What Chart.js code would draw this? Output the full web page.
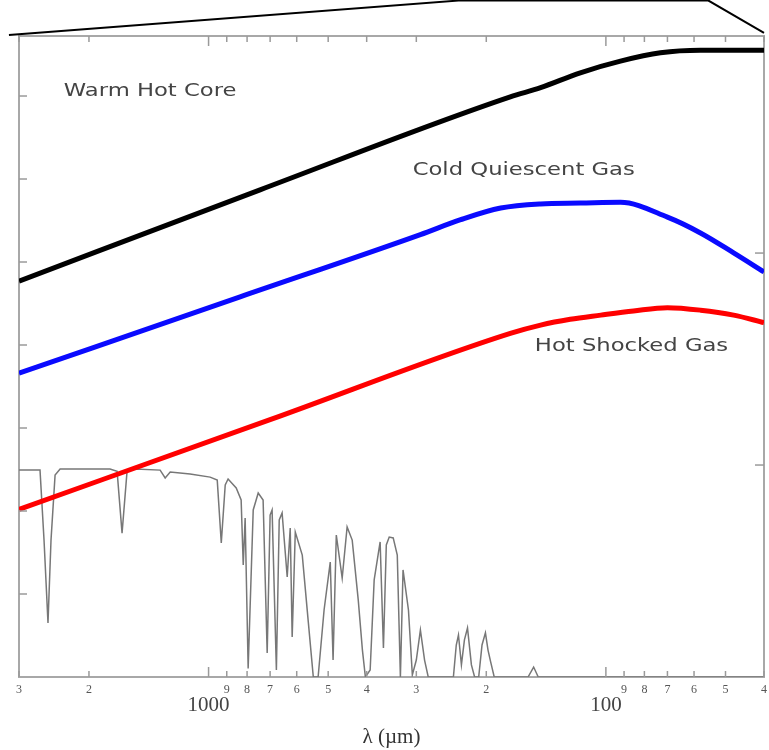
<!DOCTYPE html>
<html>
<head>
<meta charset="utf-8">
<script src="https://cdn.jsdelivr.net/npm/chart.js@4.4.1/dist/chart.umd.min.js"></script>
<style>
  html, body { margin: 0; padding: 0; background: #fff; }
  #wrap { width: 769px; height: 750px; }
</style>
</head>
<body>
<div id="wrap"><canvas id="chart" width="769" height="750"></canvas></div>
<script>
// wavelength ticks in µm, shared by the top and bottom axes
const tickValues = [3000, 2000, 1000, 900, 800, 700, 600, 500, 400, 300, 200, 100, 90, 80, 70, 60, 50, 40];
const tickLabels = ["3", "2", "1000", "9", "8", "7", "6", "5", "4", "3", "2", "100", "9", "8", "7", "6", "5", "4"];
const decadeValues = [1000, 100];
const leftTicks = [1, 2, 3, 4, 5, 6, 7];
const rightTicks = [1, 2];

// model spectra (arbitrary units, left axis)
const warmWl = [3000, 742, 174, 146, 116, 91.9, 72.9, 57.8, 40];
const warmVal = [4.77, 5.87, 6.99, 7.1, 7.28, 7.42, 7.52, 7.55, 7.55];
const coldWl = [3000, 833, 293, 232, 184, 146, 116, 91.9, 70.0, 57.8, 47.7, 40];
const coldVal = [3.66, 4.58, 5.33, 5.51, 5.65, 5.7, 5.71, 5.72, 5.54, 5.35, 5.11, 4.88];
const shockWl = [3000, 700, 174, 146, 123, 103, 85.2, 70.0, 57.8, 47.7, 40];
const shockVal = [2.02, 3.1, 4.14, 4.24, 4.31, 4.36, 4.41, 4.45, 4.42, 4.36, 4.27];

// atmospheric transmission (right axis)
const atmWl = [3000, 2703, 2656, 2595, 2536, 2492, 2434, 2364, 1770, 1699, 1651, 1604, 1531, 1324, 1286, 1249,
  1113, 991, 951, 929, 908, 893, 852, 828, 818, 809, 795, 772, 750, 729, 712, 700, 692, 675, 664, 653, 634, 623,
  616, 605, 581, 561, 545, 530, 512, 494, 486, 477, 461, 448, 435, 420, 410, 403, 392, 383, 370, 363, 357, 351,
  343, 335, 329, 324, 314, 307, 300, 293, 286, 280, 242, 238, 235, 231, 227, 223, 218, 214, 209, 205, 201, 198,
  195, 191, 157, 152, 148, 40];
const atmTrans = [0.976, 0.976, 0.976, 0.646, 0.255, 0.646, 0.953, 0.981, 0.981, 0.97, 0.679, 0.97, 0.981, 0.976,
  0.939, 0.967, 0.958, 0.943, 0.929, 0.632, 0.906, 0.934, 0.892, 0.835, 0.528, 0.75, 0.04, 0.788, 0.868, 0.835,
  0.113, 0.764, 0.788, 0.033, 0.741, 0.774, 0.472, 0.703, 0.189, 0.684, 0.575, 0.259, 0, 0, 0.316, 0.542, 0.08,
  0.67, 0.467, 0.708, 0.646, 0.363, 0.127, 0, 0.033, 0.458, 0.637, 0.137, 0.623, 0.66, 0.656, 0.575, 0, 0.505,
  0.316, 0.01, 0.08, 0.222, 0.08, 0, 0, 0.151, 0.198, 0.057, 0.175, 0.231, 0.057, 0, 0, 0.151, 0.208, 0.127,
  0.071, 0, 0, 0.047, 0, 0];

// outline above the frame
const outlineWl = [3180, 235, 55.2, 40];
const outlineVal = [7.735, 8.15, 8.15, 7.76];

const labelText = ["Warm Hot Core", "Cold Quiescent Gas", "Hot Shocked Gas"];
const labelWl = [1403, 161, 86.2];
const labelVal = [7.06, 6.1, 3.98];

const pts = (xs, ys) => xs.map((x, i) => ({ x, y: ys[i] }));
const isDecade = (c) => c.tick && decadeValues.includes(c.tick.value);

const inwardTicks = {
  id: "inwardTicks",
  afterDraw(chart) {
    const { ctx, chartArea: a, scales } = chart;
    const line = (x1, y1, x2, y2) => {
      ctx.beginPath();
      ctx.moveTo(x1, y1);
      ctx.lineTo(x2, y2);
      ctx.stroke();
    };
    ctx.save();
    ctx.strokeStyle = "#9a9a9a";
    ctx.lineWidth = 1.5;
    for (const t of scales.x.ticks) {
      const px = scales.x.getPixelForValue(t.value);
      const len = decadeValues.includes(t.value) ? 10 : 6;
      line(px, a.bottom, px, a.bottom - len);
      line(px, a.top, px, a.top + len);
    }
    for (const t of scales.y.ticks) {
      const py = scales.y.getPixelForValue(t.value);
      line(a.left, py, a.left + 8, py);
    }
    for (const t of scales.y2.ticks) {
      const py = scales.y2.getPixelForValue(t.value);
      line(a.right, py, a.right - 9, py);
    }
    ctx.restore();
  },
};

const curveLabels = {
  id: "curveLabels",
  afterDatasetsDraw(chart) {
    const { ctx, scales } = chart;
    ctx.save();
    ctx.font = '18px "DejaVu Sans"';
    ctx.fillStyle = "#444";
    ctx.textAlign = "center";
    ctx.textBaseline = "middle";
    labelText.forEach((t, i) => {
      ctx.save();
      ctx.translate(scales.x.getPixelForValue(labelWl[i]), scales.y.getPixelForValue(labelVal[i]));
      ctx.scale(1.26, 1);
      ctx.fillText(t, 0, 0);
      ctx.restore();
    });
    ctx.restore();
  },
};

const curve = (label, data, color, width) => ({
  label,
  data,
  borderColor: color,
  borderWidth: width,
  pointRadius: 0,
  fill: false,
  cubicInterpolationMode: "monotone",
  xAxisID: "x",
  yAxisID: "y",
});

const logAxis = (extra) => ({
  type: "logarithmic",
  reverse: true,
  min: 40,
  max: 3000,
  afterBuildTicks: (s) => { s.ticks = tickValues.map((v) => ({ value: v })); },
  grid: { display: false, drawTicks: false },
  border: { display: true, color: "#a8a8a8", width: 2 },
  ...extra,
});

new Chart(document.getElementById("chart"), {
  type: "line",
  data: {
    datasets: [
      curve("Warm Hot Core", pts(warmWl, warmVal), "#000000", 5),
      curve("Cold Quiescent Gas", pts(coldWl, coldVal), "#0a0aff", 5),
      curve("Hot Shocked Gas", pts(shockWl, shockVal), "#ff0000", 5),
      {
        label: "Atmosphere",
        data: pts(atmWl, atmTrans),
        borderColor: "#777",
        borderWidth: 1.5,
        pointRadius: 0,
        tension: 0,
        xAxisID: "x",
        yAxisID: "y2",
      },
      {
        label: "Outline",
        data: pts(outlineWl, outlineVal),
        borderColor: "#000000",
        borderWidth: 2,
        pointRadius: 0,
        tension: 0,
        clip: false,
        xAxisID: "x",
        yAxisID: "y",
      },
    ],
  },
  options: {
    responsive: false,
    animation: false,
    layout: { padding: { left: 19, right: 5, top: 36, bottom: 0 } },
    plugins: { legend: { display: false }, tooltip: { enabled: false } },
    scales: {
      x: logAxis({
        position: "bottom",
        ticks: {
          autoSkip: false,
          maxRotation: 0,
          padding: 0,
          color: (c) => (isDecade(c) ? "#444" : "#555"),
          font: (c) => (isDecade(c)
            ? { family: "Liberation Serif", size: 21, lineHeight: 56 / 21 }
            : { family: "Liberation Serif", size: 12, lineHeight: 26 / 12 }),
          callback: (v, i) => tickLabels[i],
        },
        title: {
          display: true,
          text: "λ (µm)",
          color: "#333",
          font: { family: "Liberation Serif", size: 21, lineHeight: 1 },
          padding: { top: -6, bottom: 2 },
        },
      }),
      xTop: logAxis({
        position: "top",
        ticks: { display: false },
      }),
      y: {
        position: "left",
        min: 0,
        max: 7.723,
        afterBuildTicks: (s) => { s.ticks = leftTicks.map((v) => ({ value: v })); },
        grid: { display: false, drawTicks: false },
        border: { display: true, color: "#a8a8a8", width: 2 },
        ticks: { display: false },
      },
      y2: {
        position: "right",
        min: 0,
        max: 3.024,
        afterBuildTicks: (s) => { s.ticks = rightTicks.map((v) => ({ value: v })); },
        grid: { display: false, drawTicks: false },
        border: { display: true, color: "#a8a8a8", width: 2 },
        ticks: { display: false },
      },
    },
  },
  plugins: [inwardTicks, curveLabels],
});
</script>
</body>
</html>
